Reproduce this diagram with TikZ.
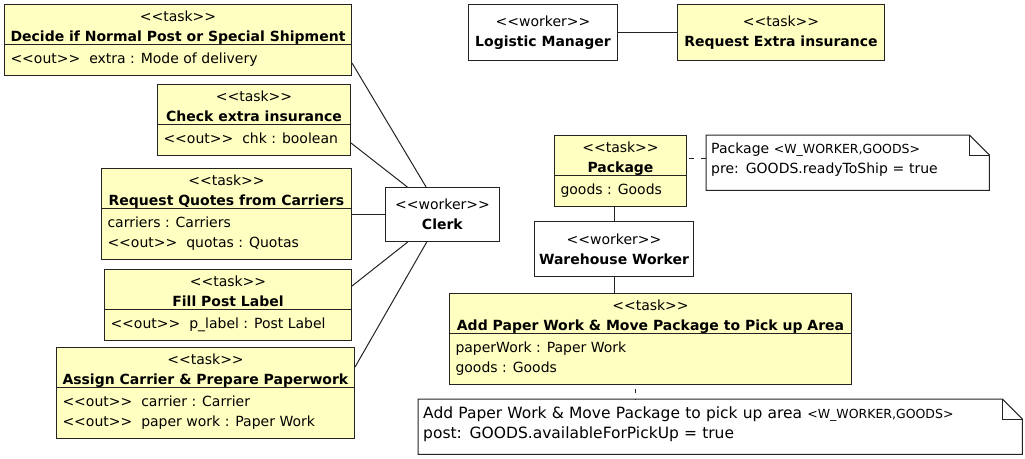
\documentclass[tikz,border=0pt]{standalone}
\usepackage{fontspec}
\setmainfont{DejaVu Sans}
\usetikzlibrary{shapes.multipart}

\definecolor{taskyellow}{RGB}{255,255,194}
\definecolor{umlline}{RGB}{35,35,35}

\newcommand{\boxfont}{\fontsize{14}{20}\selectfont}
\newcommand{\notefont}{\fontsize{14}{20}\selectfont}
\newcommand{\bignotefont}{\fontsize{15.5}{20}\selectfont}
\newcommand{\tagfont}[1]{{\fontsize{12.5}{20}\selectfont #1}}
\newcommand{\stereo}[1]{<{}<#1>{}>}
\newcommand{\taskhead}[1]{\begin{tabular}{@{}c@{}}\noalign{\vskip2pt}\stereo{task}\\\textbf{#1}\\\noalign{\vskip-2.7pt}\end{tabular}}
\newcommand{\taskattr}[1]{\begin{tabular}{@{}l@{}}\noalign{\vskip4.5pt}#1\\\noalign{\vskip5pt}\end{tabular}}
\newcommand{\notelines}[3][4pt]{\begin{tabular}{@{}l@{}}\noalign{\vskip#1}#2\\#3\\\noalign{\vskip\dimexpr15pt-#1\relax}\end{tabular}}

\begin{document}
\begin{tikzpicture}[x=1pt, y=-1pt,
  umlbox/.style={draw=umlline, line width=1pt, anchor=north west, inner sep=0pt, font=\boxfont},
  taskbox/.style={umlbox, fill=taskyellow, rectangle split, rectangle split parts=2,
    rectangle split part align={center,left}, inner xsep=6pt},
  workerbox/.style={umlbox, fill=white, align=center},
  notebox/.style={anchor=north west, inner xsep=5pt, inner ysep=0pt, align=left, font=\notefont},
  link/.style={line width=1pt, draw=umlline}]

\useasboundingbox (0,0) rectangle (1025,458);

\node[taskbox, minimum width=347pt] (decide_shipment) at (4,4) {\taskhead{Decide if Normal Post or Special Shipment}\nodepart{two}\taskattr{\stereo{out}~~extra : Mode of delivery}};
\node[taskbox, minimum width=193pt] (check_insurance) at (157,84) {\taskhead{Check extra insurance}\nodepart{two}\taskattr{\stereo{out}~~chk : boolean}};
\node[taskbox, minimum width=250pt] (request_quotes) at (101,168) {\taskhead{Request Quotes from Carriers}\nodepart{two}\taskattr{carriers : Carriers\\\stereo{out}~~quotas : Quotas}};
\node[taskbox, minimum width=247pt] (fill_label) at (104,269) {\taskhead{Fill Post Label}\nodepart{two}\taskattr{\stereo{out}~~p\_label : Post Label}};
\node[taskbox, minimum width=297pt] (assign_carrier) at (56,347) {\taskhead{Assign Carrier \& Prepare Paperwork}\nodepart{two}\taskattr{\stereo{out}~~carrier : Carrier\\\stereo{out}~~paper work : Paper Work}};
\node[workerbox, minimum width=114pt, minimum height=54pt] (clerk) at (385,187) {\stereo{worker}\\\textbf{Clerk}};

\node[workerbox, minimum width=149pt, minimum height=56pt] (logistic_manager) at (468,4) {\stereo{worker}\\\textbf{Logistic Manager}};
\node[umlbox, fill=taskyellow, align=center, minimum width=207pt, minimum height=56pt] (request_insurance) at (677,4) {\stereo{task}\\\textbf{Request Extra insurance}};

\node[taskbox, minimum width=132pt] (package) at (554,135) {\taskhead{Package}\nodepart{two}\taskattr{goods : Goods}};
\node[notebox, text width=273pt] (package_note) at (706,135) {\notelines{Package \tagfont{<W\_WORKER,GOODS>}}{pre: GOODS.readyToShip = true}};
\node[workerbox, minimum width=159pt, minimum height=55pt] (warehouse_worker) at (534,221) {\stereo{worker}\\\textbf{Warehouse Worker}};
\node[taskbox, minimum width=402pt] (move_package) at (449,293) {\taskhead{Add Paper Work \& Move Package to Pick up Area}\nodepart{two}\taskattr{paperWork : Paper Work\\goods : Goods}};
\node[notebox, font=\bignotefont, text width=594pt] (move_note) at (418,399) {\notelines[5.5pt]{Add Paper Work \& Move Package to pick up area \tagfont{<W\_WORKER,GOODS>}}{post: GOODS.availableForPickUp = true}};

\draw[link] (decide_shipment.east |- 0,63) -- (clerk);
\draw[link] (check_insurance.east |- 0,143) -- (clerk);
\draw[link] (request_quotes.east |- clerk) -- (clerk);
\draw[link] (fill_label.east |- 0,286) -- (clerk);
\draw[link] (assign_carrier.east |- 0,367) -- (clerk);
\draw[link] (logistic_manager) -- (request_insurance);
\draw[link] (warehouse_worker.north) -- (warehouse_worker.north |- package.south);
\draw[link] (warehouse_worker.south) -- (warehouse_worker.south |- move_package.north);
\draw[link, dash pattern=on 5pt off 7pt, dash phase=10pt] (package.east |- 0,158) -- (package_note.west |- 0,158);
\draw[link, dash pattern=on 4pt off 6pt, dash phase=6pt] (move_package.south -| 635,0) -- (move_note.north -| 635,0);

\foreach \n in {package_note, move_note} {
  \draw[link] (\n.north west) -- ([xshift=-20pt]\n.north east) -- ([yshift=-20pt]\n.north east) -- (\n.south east) -- (\n.south west) -- cycle;
  \draw[link] ([xshift=-20pt]\n.north east) |- ([yshift=-20pt]\n.north east);
}

\end{tikzpicture}
\end{document}
